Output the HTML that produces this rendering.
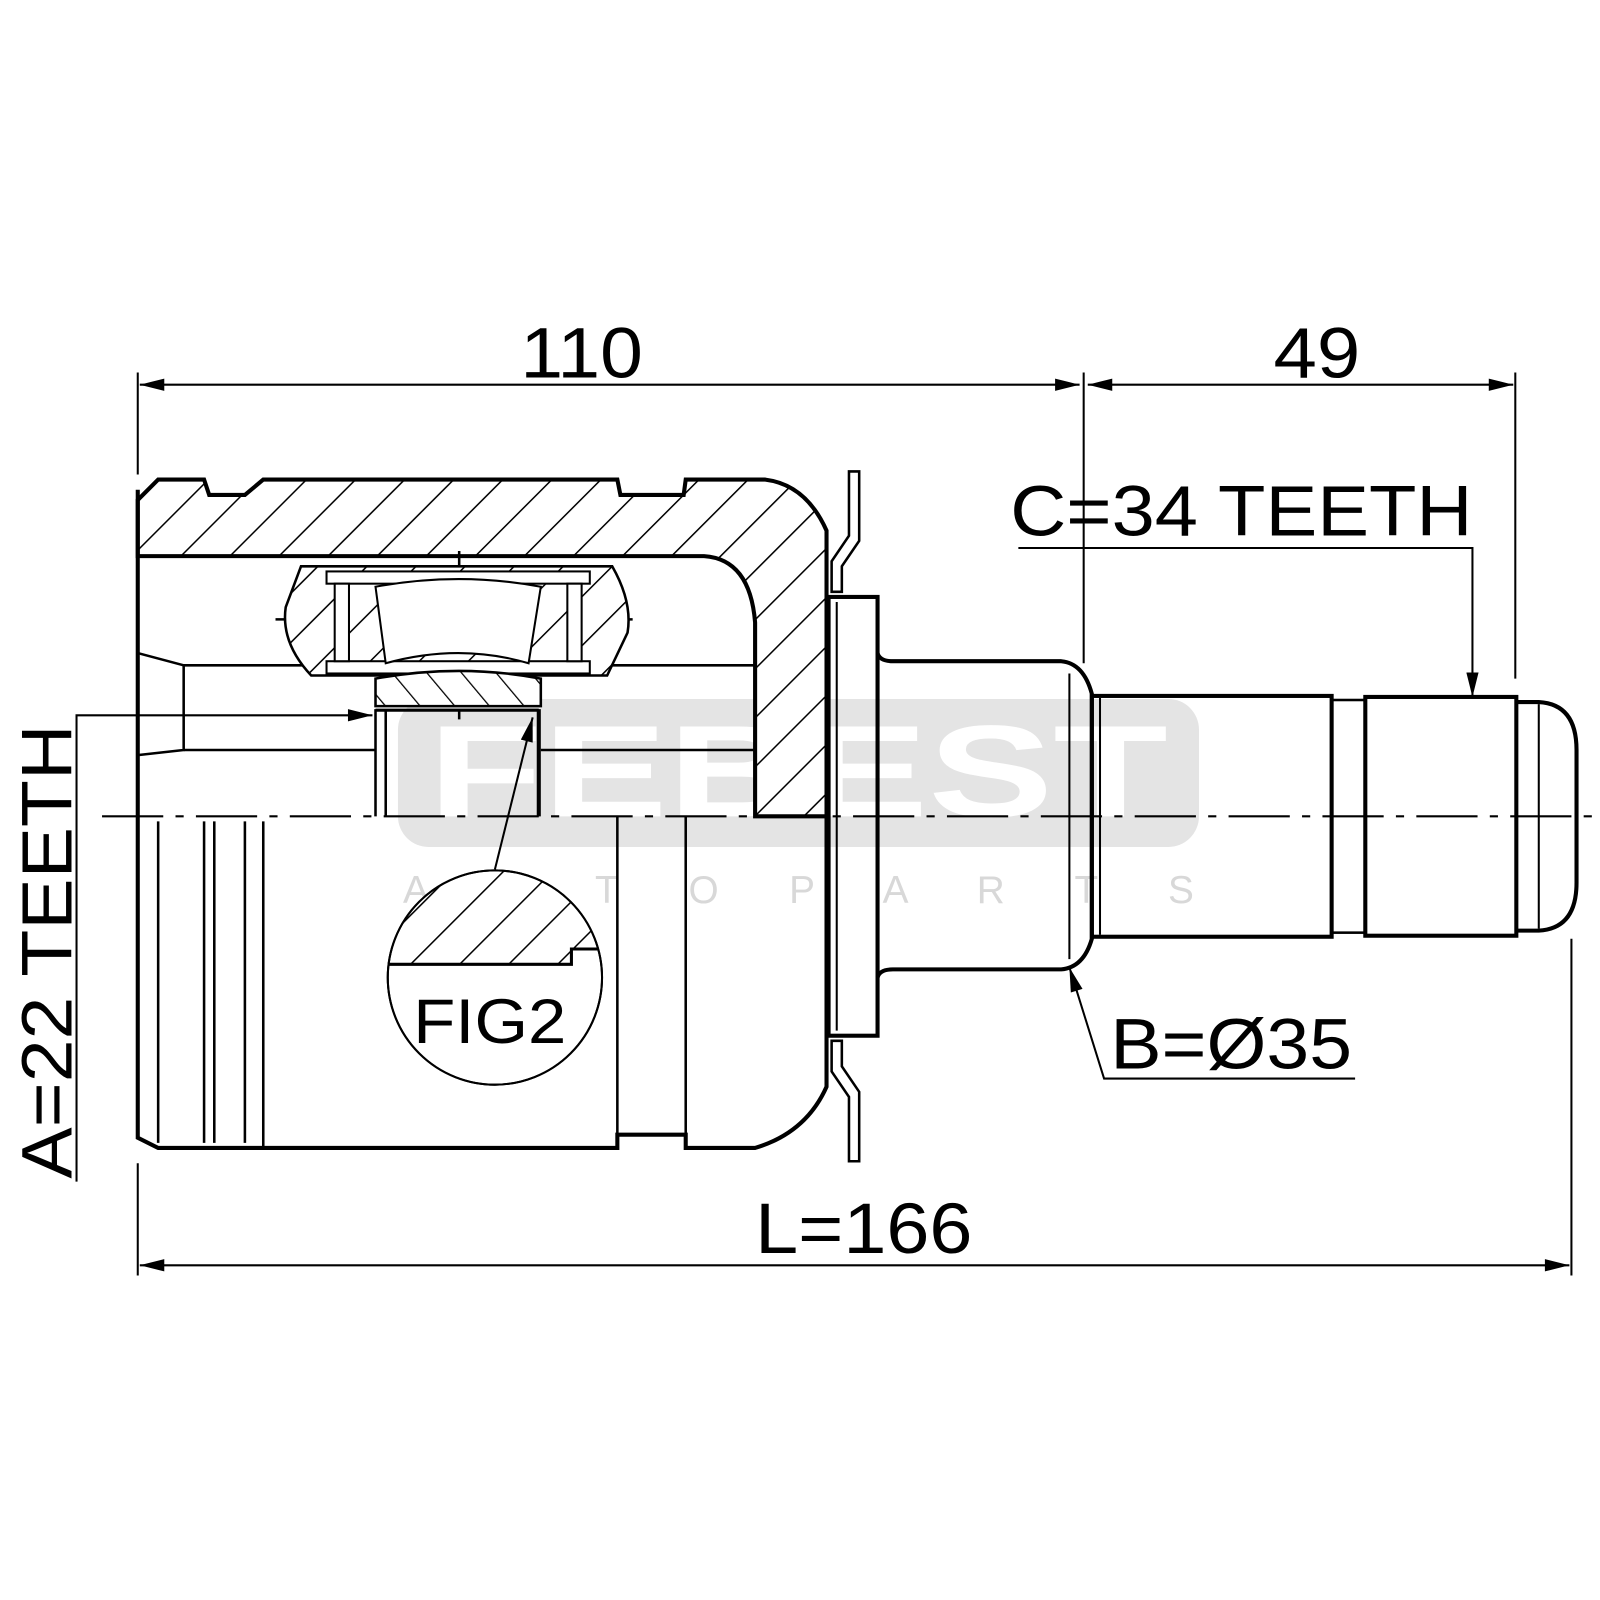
<!DOCTYPE html>
<html><head><meta charset="utf-8"><style>html,body{margin:0;padding:0;background:#fff}svg{display:block}</style></head>
<body>
<svg width="1600" height="1600" viewBox="0 0 1568 1568" xmlns="http://www.w3.org/2000/svg" font-family="Liberation Sans, Arial, sans-serif">
<defs>
<pattern id="h" patternUnits="userSpaceOnUse" width="34" height="34" patternTransform="rotate(45)">
<line x1="0" y1="0" x2="0" y2="34" stroke="#000" stroke-width="3"/></pattern>
<pattern id="h2" patternUnits="userSpaceOnUse" width="26" height="26" patternTransform="rotate(-40)">
<line x1="0" y1="0" x2="0" y2="26" stroke="#000" stroke-width="2.5"/></pattern>
<clipPath id="cc"><circle cx="485" cy="958" r="105"/></clipPath>
<marker id="a" viewBox="0 0 20 10" refX="20" refY="5" markerWidth="50" markerHeight="12" markerUnits="userSpaceOnUse" orient="auto-start-reverse"><path d="M0,0 L20,5 L0,10 Z" fill="#000"/></marker>
</defs>
<rect width="1568" height="1568" fill="#fff"/>
<rect x="390" y="685" width="785" height="145" rx="30" fill="#e4e4e4"/>
<text x="782" y="800" font-size="128" font-weight="bold" fill="#fff" text-anchor="middle" textLength="725" lengthAdjust="spacingAndGlyphs">FEBEST</text>
<text x="395" y="885" font-size="38" fill="#d8d8d8" textLength="775">A    U    T    O    P    A    R    T    S</text>

<g stroke="#000" fill="none" stroke-width="2">
<line x1="135" y1="365" x2="135" y2="465"/>
<line x1="1062" y1="365" x2="1062" y2="650"/>
<line x1="1485" y1="365" x2="1485" y2="665"/>
<line x1="137" y1="377" x2="1058" y2="377" marker-start="url(#a)" marker-end="url(#a)"/>
<line x1="1066" y1="377" x2="1483" y2="377" marker-start="url(#a)" marker-end="url(#a)"/>
<line x1="135" y1="1140" x2="135" y2="1250"/>
<line x1="1540" y1="920" x2="1540" y2="1250"/>
<line x1="137" y1="1240" x2="1538" y2="1240" marker-start="url(#a)" marker-end="url(#a)"/>
<polyline points="998,537 1443,537 1443,683" marker-end="url(#a)"/>
<polyline points="1328,1057 1082,1057 1048,948" marker-end="url(#a)"/>
<polyline points="75,1158 75,701 365,701" marker-end="url(#a)"/>
<line x1="485" y1="852" x2="522" y2="703" marker-end="url(#a)"/>
<line x1="100" y1="800" x2="1568" y2="800" stroke-dasharray="60,12,8,12"/>
</g>

<path d="M135,490 L155,470 L200,470 L205,485 L240,485 L258,470 L605,470 L608,485 L670,485 L672,470 L750,470 Q790,475 810,520 L810,800 L740,800 L740,610 Q735,548 690,545 L135,545 Z" fill="#fff" stroke="none"/>
<path d="M135,490 L155,470 L200,470 L205,485 L240,485 L258,470 L605,470 L608,485 L670,485 L672,470 L750,470 Q790,475 810,520 L810,800 L740,800 L740,610 Q735,548 690,545 L135,545 Z" fill="url(#h)" stroke="#000" stroke-width="4"/>
<path d="M135,480 L135,1115 L155,1125 L605,1125 L605,1112 L672,1112 L672,1125 L740,1125 Q790,1110 810,1065 L810,800" fill="none" stroke="#000" stroke-width="4"/>
<g stroke="#000" stroke-width="2.5" fill="none">
<line x1="155" y1="805" x2="155" y2="1120"/><line x1="200" y1="805" x2="200" y2="1120"/><line x1="210" y1="805" x2="210" y2="1120"/>
<line x1="240" y1="805" x2="240" y2="1120"/><line x1="258" y1="805" x2="258" y2="1125"/>
<line x1="605" y1="800" x2="605" y2="1125"/><line x1="672" y1="800" x2="672" y2="1125"/>
<path d="M135,640 L180,652 L180,735 L135,740"/>
<line x1="180" y1="652" x2="740" y2="652"/>
<line x1="180" y1="735" x2="368" y2="735"/>
<line x1="530" y1="735" x2="740" y2="735"/>
<line x1="368" y1="695" x2="368" y2="800"/><line x1="378" y1="695" x2="378" y2="800"/>
<line x1="528" y1="695" x2="528" y2="800" stroke-width="4"/>
<line x1="450" y1="540" x2="450" y2="705" stroke-dasharray="30,8,6,8"/>
<line x1="270" y1="607" x2="625" y2="607" stroke-dasharray="40,8,6,8"/>
</g>
<path d="M295,555 L600,555 Q620,590 615,620 L595,662 L305,662 Q275,630 280,595 Z" fill="#fff" stroke="none"/>
<path d="M295,555 L600,555 Q620,590 615,620 L595,662 L305,662 Q275,630 280,595 Z" fill="url(#h)" stroke="#000" stroke-width="2.5"/>
<rect x="320" y="560" width="258" height="12" fill="#fff" stroke="#000" stroke-width="2"/>
<rect x="320" y="648" width="258" height="12" fill="#fff" stroke="#000" stroke-width="2"/>
<rect x="328" y="572" width="14" height="76" fill="#fff" stroke="#000" stroke-width="2"/>
<rect x="556" y="572" width="14" height="76" fill="#fff" stroke="#000" stroke-width="2"/>
<path d="M368,575 Q450,560 530,575 L518,650 Q450,630 378,650 Z" fill="#fff" stroke="#000" stroke-width="2"/>
<path d="M368,665 Q450,650 530,665 L530,692 L368,692 Z" fill="#fff"/>
<path d="M368,665 Q450,650 530,665 L530,692 L368,692 Z" fill="url(#h2)" stroke="#000" stroke-width="2.5"/>
<line x1="368" y1="696" x2="528" y2="696" stroke="#000" stroke-width="3"/>
<g stroke="#000" stroke-width="2.5" fill="#fff">
<path d="M832,462 L842,462 L842,530 L825,555 L825,580 L815,580 L815,550 L832,525 Z"/>
<path d="M832,1138 L842,1138 L842,1070 L825,1045 L825,1020 L815,1020 L815,1050 L832,1075 Z"/>
</g>
<g stroke="#000" stroke-width="4" fill="none">
<rect x="812" y="585" width="48" height="430"/>
<path d="M860,640 Q862,648 875,648 L1040,648 Q1062,650 1070,680 L1070,920 Q1062,948 1040,950 L875,950 Q862,950 860,958"/>
<rect x="1070" y="682" width="235" height="236"/>
<rect x="1305" y="686" width="33" height="228" stroke-width="2.5"/>
<rect x="1338" y="683" width="148" height="234"/>
<path d="M1486,688 L1508,688 Q1545,690 1545,735 L1545,865 Q1545,910 1508,912 L1486,912"/>
</g>
<g stroke="#000" stroke-width="2" fill="none">
<line x1="1048" y1="660" x2="1048" y2="940"/>
<line x1="1078" y1="684" x2="1078" y2="916"/>
<line x1="1508" y1="690" x2="1508" y2="910"/>
<line x1="820" y1="590" x2="820" y2="1010"/>
</g>
<circle cx="485" cy="958" r="105" fill="#fff" stroke="#000" stroke-width="2"/>
<g clip-path="url(#cc)">
<path d="M370,945 L560,945 L560,930 L600,930 L600,840 L370,840 Z" fill="url(#h)" stroke="#000" stroke-width="3"/>
</g>
<circle cx="485" cy="958" r="105" fill="none" stroke="#000" stroke-width="2"/>
<text x="405" y="1022" font-size="62" textLength="150" lengthAdjust="spacingAndGlyphs">FIG2</text>

<g font-size="70">
<text x="510" y="370" textLength="120" lengthAdjust="spacingAndGlyphs">110</text>
<text x="1248" y="370" textLength="85" lengthAdjust="spacingAndGlyphs">49</text>
<text x="740" y="1228" textLength="213" lengthAdjust="spacingAndGlyphs">L=166</text>
<text x="990" y="525" textLength="453" lengthAdjust="spacingAndGlyphs">C=34 TEETH</text>
<text x="1088" y="1047" textLength="237" lengthAdjust="spacingAndGlyphs">B=Ø35</text>
<text transform="translate(70,1155) rotate(-90)" textLength="445" lengthAdjust="spacingAndGlyphs">A=22 TEETH</text>
</g>
</svg>
</body></html>
